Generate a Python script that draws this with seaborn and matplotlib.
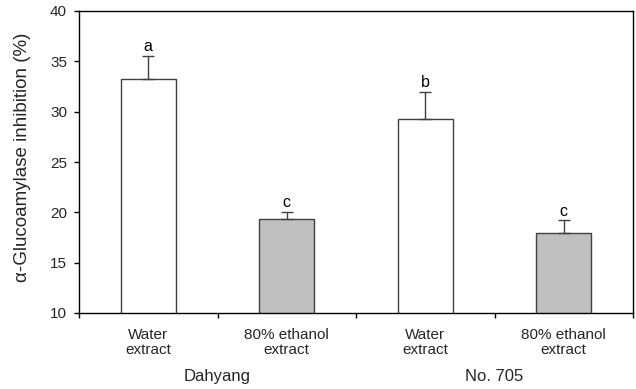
import matplotlib
matplotlib.use("Agg")
import matplotlib.pyplot as plt
import seaborn as sns
import pandas as pd
import numpy as np
from matplotlib.ticker import FixedLocator

sns.set_theme(style="white")
plt.rcParams['font.family'] = ['Liberation Sans', 'DejaVu Sans']

categories = ["Dahyang water", "Dahyang ethanol", "No705 water", "No705 ethanol"]
tick_labels = ["Water\nextract", "80% ethanol\nextract", "Water\nextract", "80% ethanol\nextract"]
extract_type = ["water", "ethanol", "water", "ethanol"]
values = [33.2, 19.3, 29.3, 17.95]
errors = [2.35, 0.75, 2.7, 1.25]
letters = ["a", "c", "b", "c"]
groups = ["Dahyang", "No. 705"]

df = pd.DataFrame({"cat": categories, "val": values, "type": extract_type})

fig = plt.figure(figsize=(6.36, 3.89), dpi=100)
ax = fig.add_axes([79/636, 1-313/389, (633-79)/636, (313-11)/389])

sns.barplot(data=df, x="cat", y="val", hue="type", order=categories,
            palette={"water": "white", "ethanol": "#c0c0c0"}, dodge=False,
            width=0.4, errorbar=None, edgecolor="#404040", linewidth=1.0,
            legend=False, ax=ax)

x = np.arange(len(categories))
ax.errorbar(x, values, yerr=[np.zeros(len(errors)), errors], fmt="none",
            ecolor="#404040", elinewidth=1.0, capsize=4, capthick=1.0)

for xi, v, e, l in zip(x, values, errors, letters):
    ax.text(xi, v + e + 0.15, l, ha="center", va="bottom", fontsize=11.5, color="black")

ax.set_xlim(-0.5, 3.5)
ax.set_ylim(10, 40)
ax.set_yticks([10, 15, 20, 25, 30, 35, 40])
ax.set_xticks(x)
ax.set_xticklabels(tick_labels, fontsize=11, linespacing=1.1)
ax.xaxis.set_minor_locator(FixedLocator([-0.5, 0.5, 1.5, 2.5, 3.5]))
ax.tick_params(axis="x", which="major", length=0, pad=11)
ax.tick_params(axis="x", which="minor", length=3.6, width=1, color="black", direction="out", bottom=True)
ax.tick_params(axis="y", length=3.6, width=1, color="black", direction="out", left=True, labelsize=11, pad=5)
ax.set_xlabel("")
ax.set_ylabel("α-Glucoamylase inhibition (%)", fontsize=13.5)
ax.yaxis.set_label_coords(-0.087, 0.517)

for s in ax.spines.values():
    s.set_color("black")
    s.set_linewidth(1.0)

for gi, g in enumerate(groups):
    ax.text(gi * 2 + 0.5, -0.186, g, transform=ax.get_xaxis_transform(),
            ha="center", va="top", fontsize=12)

fig.savefig("out.png", dpi=100)
